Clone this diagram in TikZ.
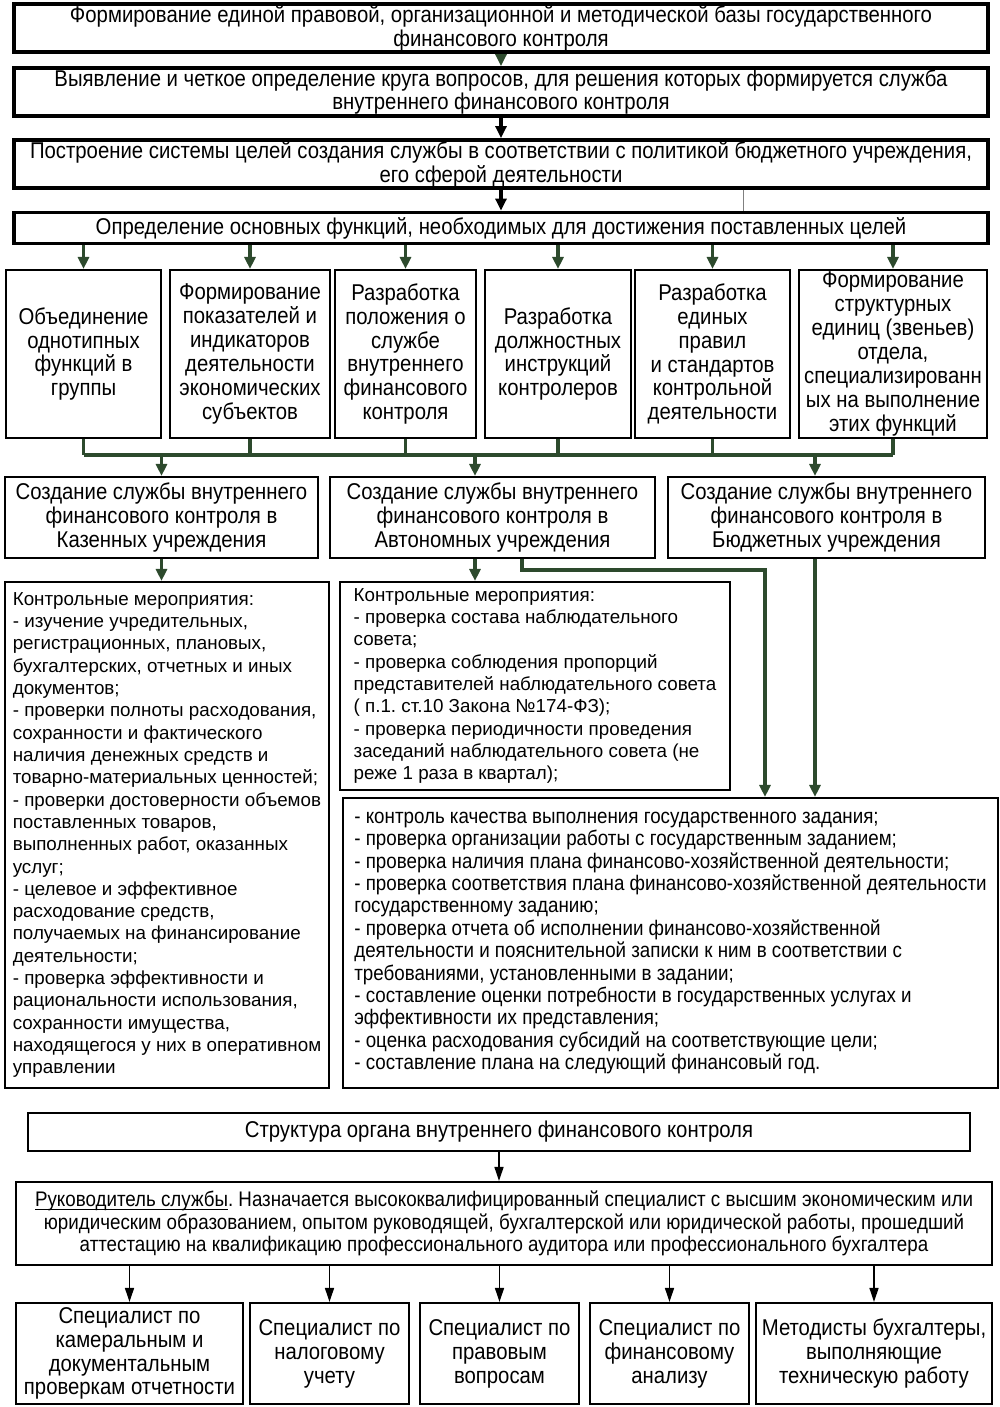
\documentclass[tikz,border=0pt]{standalone}
\usepackage{fontspec}
\setmainfont{Liberation Sans}
\newfontfamily\narrowfont[FakeStretch=0.89]{Liberation Sans}
\usetikzlibrary{arrows.meta}
\definecolor{dkgreen}{RGB}{45,74,45}
\newcommand{\undrl}[1]{\setbox0\hbox{#1}\rlap{\rule[-1.8pt]{\wd0}{0.5pt}}\box0}
\frenchspacing

\tikzset{
  wh/.style 2 args={minimum width=#1*0.02cm, minimum height=#2*0.02cm},
  bigbox/.style={draw, line width=2.2pt, align=center, inner sep=0pt,
    font=\narrowfont\fontsize{13}{13.6}\selectfont},
  smallbox/.style={draw, line width=1.2pt, align=center, inner sep=0pt,
    font=\narrowfont\fontsize{13}{13.6}\selectfont},
  listbox/.style={draw, line width=1.2pt, align=left, inner sep=0pt,
    font=\fontsize{10.7}{12.7}\selectfont},
  gline/.style={dkgreen, line width=1.8pt},
  garrow/.style={gline, ->},
  barrow/.style={black, line width=1.8pt, ->},
  tarrow/.style={black, line width=0.8pt, -{Triangle[length=2.8mm,width=1.8mm]}},
}

\begin{document}
\begin{tikzpicture}[x=0.02cm,y=-0.02cm,>={Triangle[length=2.4mm,width=2.2mm]}]
  \useasboundingbox (0,0) rectangle (1000,1407);

  % Верхние этапы
  \node[bigbox, wh={974}{48}] (b1) at (501,28)
    {Формирование единой правовой, организационной и методической базы государственного\\финансового контроля};
  \node[bigbox, wh={974}{48}] (b2) at (501,92)
    {Выявление и четкое определение круга вопросов, для решения которых формируется служба\\внутреннего финансового контроля};
  \node[bigbox, wh={974}{48}] (b3) at (501,164)
    {Построение системы целей создания службы в соответствии с политикой бюджетного учреждения,\\его сферой деятельности};
  \node[bigbox, wh={974}{31}] (b4) at (501,228)
    {Определение основных функций, необходимых для достижения поставленных целей};

  \draw[garrow] (b1) -- (b2);
  \draw[barrow] (b2) -- (b3);
  \draw[barrow] (b3) -- (b4);
  \coordinate (t1) at (743,0);
  \draw[gray, line width=0.4pt] (b3.south -| t1) -- (b4.north -| t1);

  % Функции
  \node[smallbox, wh={155}{168}] (f1) at (83.5,354)
    {Объединение\\однотипных\\функций в\\группы};
  \node[smallbox, wh={160}{168}] (f2) at (250,354)
    {Формирование\\показателей и\\индикаторов\\деятельности\\экономических\\субъектов};
  \node[smallbox, wh={141}{168}] (f3) at (405.5,354)
    {Разработка\\положения о\\службе\\внутреннего\\финансового\\контроля};
  \node[smallbox, wh={146}{168}] (f4) at (558,354)
    {Разработка\\должностных\\инструкций\\контролеров};
  \node[smallbox, wh={155}{168}] (f5) at (712.5,354)
    {Разработка\\единых\\правил\\и стандартов\\контрольной\\деятельности};
  \node[smallbox, wh={188}{168}] (f6) at (893,354)
    {Формирование\\структурных\\единиц (звеньев)\\отдела,\\специализированн\\ых на выполнение\\этих функций};

  \foreach \f in {f1,f2,f3,f4,f5,f6}
    \draw[garrow] (b4.south -| \f) -- (\f);

  % Шина
  \coordinate (bus) at (0,455);
  \foreach \f in {f1,f2,f3,f4,f5,f6}
    \draw[gline] (\f.south) -- (\f |- bus);
  \draw[gline] (f1 |- bus) -- (f6 |- bus);

  % Типы учреждений
  \node[smallbox, wh={313}{81}] (c1) at (161.5,517.5)
    {Создание службы внутреннего\\финансового контроля в\\Казенных учреждения};
  \node[smallbox, wh={325}{81}] (c2) at (492.5,517.5)
    {Создание службы внутреннего\\финансового контроля в\\Автономных учреждения};
  \node[smallbox, wh={317}{81}] (c3) at (826.5,517.5)
    {Создание службы внутреннего\\финансового контроля в\\Бюджетных учреждения};

  \coordinate (ax2) at (475,0);
  \coordinate (ax3) at (815,0);
  \draw[garrow] (c1 |- bus) -- (c1);
  \draw[garrow] (ax2 |- bus) -- (ax2 |- c2.north);
  \draw[garrow] (ax3 |- bus) -- (ax3 |- c3.north);

  % Контрольные мероприятия
  \node[listbox, wh={324}{506}] (l1) at (167,835)
    {Контрольные мероприятия:\\
     - изучение учредительных,\\
     регистрационных, плановых,\\
     бухгалтерских, отчетных и иных\\
     документов;\\
     - проверки полноты расходования,\\
     сохранности и фактического\\
     наличия денежных средств и\\
     товарно-материальных ценностей;\\
     - проверки достоверности объемов\\
     поставленных товаров,\\
     выполненных работ, оказанных\\
     услуг;\\
     - целевое и эффективное\\
     расходование средств,\\
     получаемых на финансирование\\
     деятельности;\\
     - проверка эффективности и\\
     рациональности использования,\\
     сохранности имущества,\\
     находящегося у них в оперативном\\
     управлении};
  \node[listbox, wh={390}{208}] (m1) at (535,686)
    {Контрольные мероприятия:\\
     - проверка состава наблюдательного\\
     совета;\\
     - проверка соблюдения пропорций\\
     представителей наблюдательного совета\\
     ( п.1. ст.10 Закона №174-ФЗ);\\
     - проверка периодичности проведения\\
     заседаний наблюдательного совета (не\\
     реже 1 раза в квартал);};
  \node[listbox, wh={655}{290}, font=\narrowfont\fontsize{12}{12.75}\selectfont] (r1) at (670.5,943)
    {- контроль качества выполнения государственного задания;\\
     - проверка организации работы с государственным заданием;\\
     - проверка наличия плана финансово-хозяйственной деятельности;\\
     - проверка соответствия плана финансово-хозяйственной деятельности\\
     государственному заданию;\\
     - проверка отчета об исполнении финансово-хозяйственной\\
     деятельности и пояснительной записки к ним в соответствии с\\
     требованиями, установленными в задании;\\
     - составление оценки потребности в государственных услугах и\\
     эффективности их представления;\\
     - оценка расходования субсидий на соответствующие цели;\\
     - составление плана на следующий финансовый год.};

  \coordinate (e1) at (522,570);
  \coordinate (e2) at (765,570);
  \draw[garrow] (c1.south) -- (c1.south |- l1.north);
  \draw[garrow] (ax2 |- c2.south) -- (ax2 |- m1.north);
  \draw[garrow] (c2.south -| e1) -- (e1) -- (e2) -- (e2 |- r1.north);
  \draw[garrow] (ax3 |- c3.south) -- (ax3 |- r1.north);

  % Структура органа
  \node[smallbox, wh={942}{38}] (s1) at (499,1132)
    {Структура органа внутреннего финансового контроля};
  \node[smallbox, wh={976}{83}, font=\narrowfont\fontsize{12}{13}\selectfont] (rk) at (504,1223.5)
    {\undrl{Руководитель службы}. Назначается высококвалифицированный специалист с высшим экономическим или\\
     юридическим образованием, опытом руководящей, бухгалтерской или юридической работы, прошедший\\
     аттестацию на квалификацию профессионального аудитора или профессионального бухгалтера};
  \node[smallbox, wh={227}{101}] (p1) at (129.5,1353.5)
    {Специалист по\\камеральным и\\документальным\\проверкам отчетности};
  \node[smallbox, wh={159}{101}] (p2) at (329.5,1353.5)
    {Специалист по\\налоговому\\учету};
  \node[smallbox, wh={159}{101}] (p3) at (499.5,1353.5)
    {Специалист по\\правовым\\вопросам};
  \node[smallbox, wh={159}{101}] (p4) at (669.5,1353.5)
    {Специалист по\\финансовому\\анализу};
  \node[smallbox, wh={236}{101}] (p5) at (874,1353.5)
    {Методисты бухгалтеры,\\выполняющие\\техническую работу};

  \draw[tarrow] (s1.south) -- (s1.south |- rk.north);
  \foreach \p in {p1,p2,p3,p4,p5}
    \draw[tarrow] (rk.south -| \p) -- (\p.north);
\end{tikzpicture}
\end{document}
